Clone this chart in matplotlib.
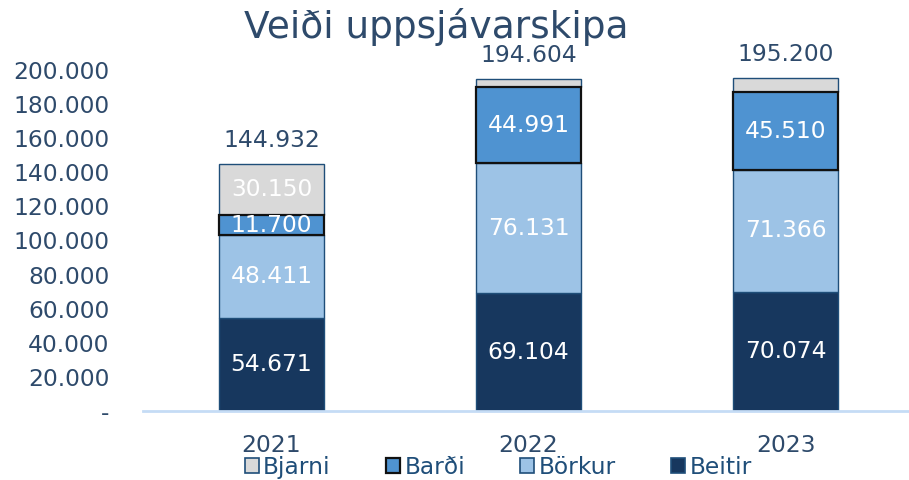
import matplotlib
matplotlib.use("Agg")
import matplotlib.pyplot as plt
from matplotlib.patches import Patch

years = ["2021", "2022", "2023"]
series_names = ["Beitir", "Börkur", "Barði", "Bjarni"]
beitir = [54671, 69104, 70074]
borkur = [48411, 76131, 71366]
bardi = [11700, 44991, 45510]
bjarni = [30150, 4378, 8250]
totals = [144932, 194604, 195200]
yticks = [0, 20000, 40000, 60000, 80000, 100000, 120000, 140000, 160000, 180000, 200000]
show_label = [[True, True, True], [True, True, True], [True, True, True], [True, False, False]]

colors = ["#17375E", "#9DC3E6", "#4F93D1", "#D9D9D9"]
edges = ["#1F4E79", "#1F4E79", "#111111", "#1F4E79"]
lws = [1.0, 1.0, 1.6, 1.0]
txt = "#2E4A6B"
legtxt = "#1F4E79"
FS = 16.8

def fmt(v):
    if v == 0:
        return "-"
    return f"{v:,.0f}".replace(",", ".")

plt.rcParams['font.family'] = ['DejaVu Sans']
fig = plt.figure(figsize=(9.09, 4.8), dpi=100)
ax = fig.add_axes([143/909, 69/480, 771/909, 341/480])

x = list(range(len(years)))
bottoms = [0, 0, 0]
data = [beitir, borkur, bardi, bjarni]
for i, vals in enumerate(data):
    bars = ax.bar(x, vals, width=0.405, bottom=bottoms, color=colors[i],
                  edgecolor=edges[i], linewidth=lws[i], zorder=3 if i != 2 else 4,
                  label=series_names[i])
    for j, b in enumerate(bars):
        if show_label[i][j]:
            ax.text(b.get_x() + b.get_width()/2, bottoms[j] + vals[j]/2, fmt(vals[j]),
                    ha="center", va="center", color="white", fontsize=FS, zorder=5)
    bottoms = [bottoms[k] + vals[k] for k in range(len(vals))]

for j, t in enumerate(totals):
    ax.annotate(fmt(t), (x[j], t), xytext=(0, 17), textcoords="offset points",
                ha="center", va="center", color=txt, fontsize=FS, annotation_clip=False)

ax.set_xlim(-0.5, 2.5)
ax.set_ylim(0, 200000)
ax.set_yticks(yticks)
ax.set_yticklabels([fmt(v) for v in yticks])
ax.set_xticks(x)
ax.set_xticklabels(years)
ax.tick_params(axis="y", length=0, labelsize=FS, labelcolor=txt, pad=24)
ax.tick_params(axis="x", length=0, labelsize=FS, labelcolor=txt, pad=16.5)
for lab in ax.get_yticklabels():
    lab.set_horizontalalignment("right")
for s in ["top", "right", "left"]:
    ax.spines[s].set_visible(False)
ax.spines["bottom"].set_color("#C5DCF5")
ax.spines["bottom"].set_linewidth(2)
ax.spines["bottom"].set_zorder(6)

fig.text(0.48, 0.943, "Veiði uppsjávarskipa", ha="center", va="center",
         fontsize=27, color=txt)

handles = [Patch(facecolor=colors[3], edgecolor=edges[3], linewidth=1.2, label="Bjarni"),
           Patch(facecolor=colors[2], edgecolor=edges[2], linewidth=1.6, label="Barði"),
           Patch(facecolor=colors[1], edgecolor=edges[1], linewidth=1.2, label="Börkur"),
           Patch(facecolor=colors[0], edgecolor=edges[0], linewidth=1.2, label="Beitir")]
leg = fig.legend(handles=handles, loc="center", bbox_to_anchor=(0.548, 0.026), ncol=4,
                 frameon=False, fontsize=FS, handlelength=0.6, handleheight=0.6,
                 handletextpad=0.2, columnspacing=2.35, labelcolor=legtxt,
                 borderpad=0, borderaxespad=0)

fig.savefig("out.png", dpi=100)
